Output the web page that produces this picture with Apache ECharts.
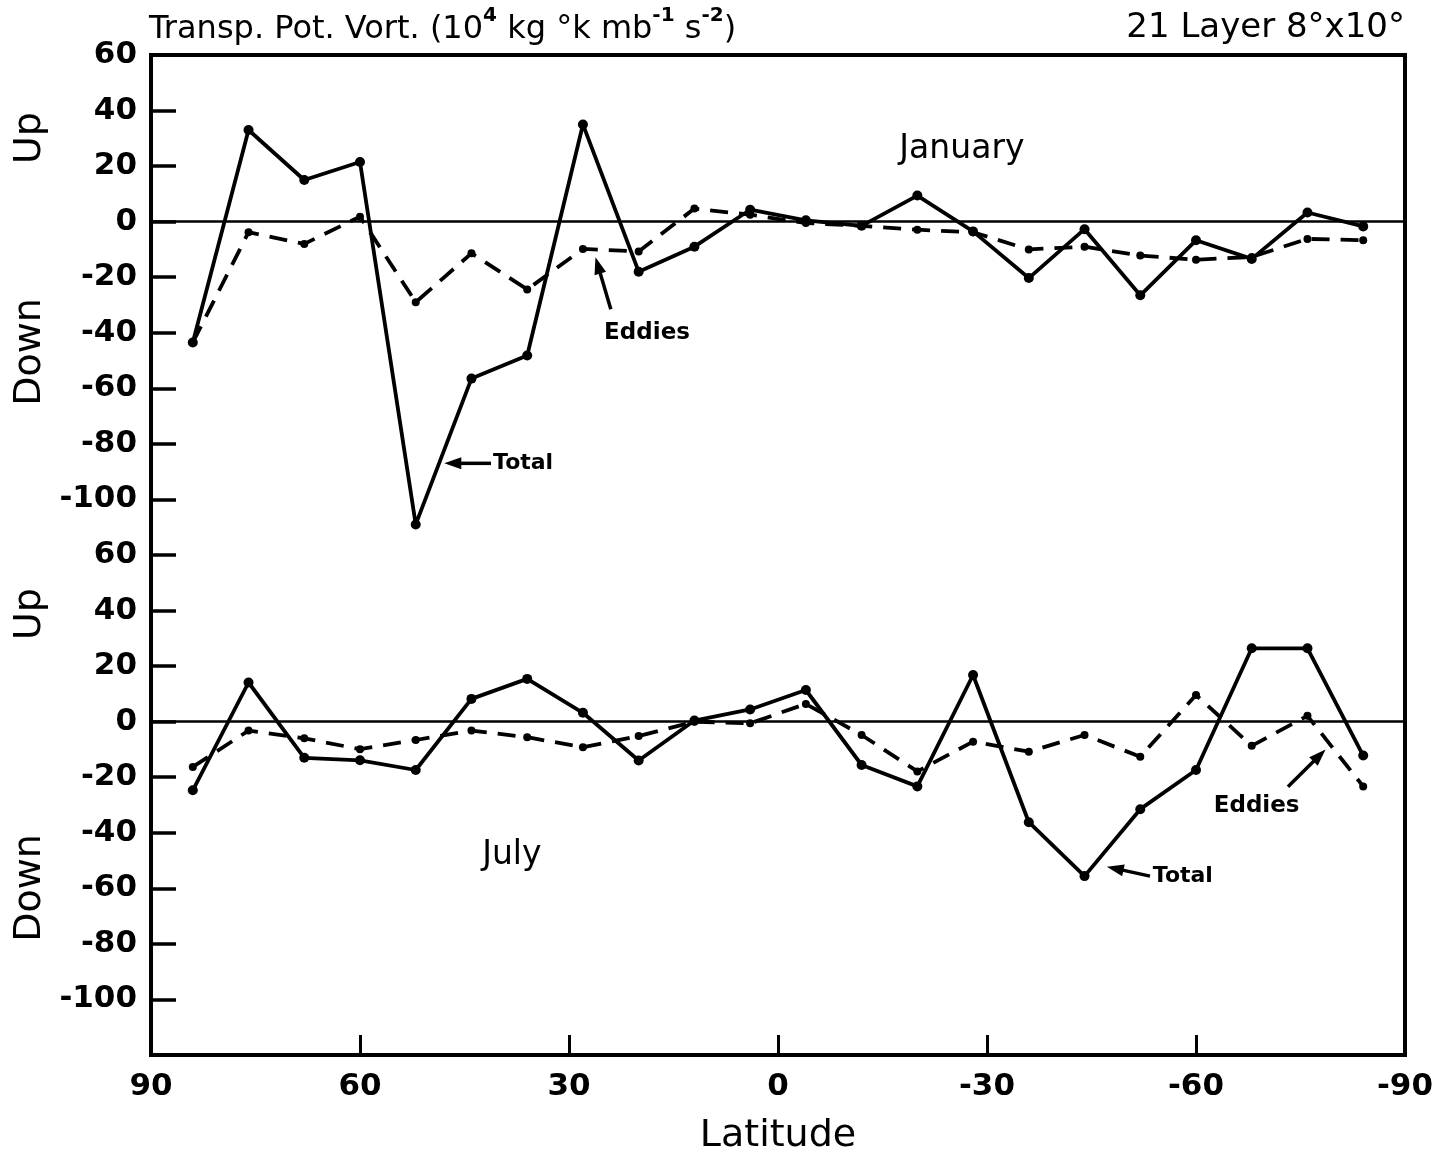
<!DOCTYPE html>
<html>
<head>
<meta charset="utf-8">
<script src="https://cdn.jsdelivr.net/npm/echarts@6/dist/echarts.min.js"></script>
<style>
  html, body { margin: 0; padding: 0; background: #fff; }
  #chart { width: 1442px; height: 1160px; }
</style>
</head>
<body>
<div id="chart"></div>
<script>
// Latitudes of the 8-degree analysis bands, north to south
const latitudes = [84, 76, 68, 60, 52, 44, 36, 28, 20, 12, 4, -4, -12, -20, -28, -36, -44, -52, -60, -68, -76, -84];

// January transport of potential vorticity (10^4 kg °K mb^-1 s^-2)
const januaryTotal  = [-43.5, 33, 15, 21.5, -109, -56.5, -48.2, 35, -18, -9, 4.3, 0.5, -1.5, 9.4, -3.5, -20.3, -2.7, -26.5, -6.7, -13.4, 3.3, -1.7];
const januaryEddies = [-43.5, -3.8, -8, 1.8, -29, -11.4, -24.4, -9.8, -10.7, 4.7, 2.5, -0.5, -1.5, -2.9, -3.8, -10, -9, -12.2, -13.7, -12.7, -6.2, -6.7];

// July transport of potential vorticity
const julyTotal  = [-24.7, 14.1, -13, -13.9, -17.4, 8.2, 15.4, 3.2, -14, 0.4, 4.4, 11.4, -15.6, -23.3, 16.8, -36.2, -55.6, -31.5, -17.4, 26.4, 26.4, -12.2];
const julyEddies = [-16.3, -3.2, -6, -9.9, -6.6, -3.2, -5.6, -9.2, -5.2, 0, -0.6, 6.4, -4.8, -17.9, -7.2, -10.8, -4.8, -12.6, 9.6, -8.7, 2.1, -23.3];

// Axis ranges and tick steps
const latitudeRange = [-90, 90];
const latitudeStep = 30;
const valueRange = [-120, 60];
const valueStep = 20;

// Panel annotations, placed in data coordinates of their panel
const panelTitles = [
  { panel: 0, text: 'January', at: [-26.4, 26] },
  { panel: 1, text: 'July', at: [38.2, -48] }
];
const pointers = [
  { panel: 0, text: 'Eddies', textAt: [18.8, -40], align: 'center', from: [24.0, -31.5], to: [26.2, -12.8] },
  { panel: 0, text: 'Total', textAt: [40.9, -87], align: 'left', from: [41.2, -87], to: [47.9, -87] },
  { panel: 1, text: 'Eddies', textAt: [-68.7, -30.2], align: 'center', from: [-73.2, -23.4], to: [-78.6, -10] },
  { panel: 1, text: 'Total', textAt: [-53.8, -55.8], align: 'left', from: [-53.4, -55.6], to: [-47.2, -52.2] }
];

const FONT = '"DejaVu Sans", "Liberation Sans", sans-serif';
const INK = '#000';
const GRID_LEFT = 151, GRID_RIGHT = 37, GRID_TOP = 55, PANEL_H = 500;

const chart = echarts.init(document.getElementById('chart'), null, { renderer: 'canvas' });

function xAxisFor(gridIndex, showLabels) {
  return {
    type: 'value', gridIndex, position: 'bottom',
    min: latitudeRange[0], max: latitudeRange[1], interval: latitudeStep,
    inverse: true,
    axisLine: { show: false, onZero: false },
    axisTick: { show: showLabels, inside: true, length: 20, lineStyle: { color: INK, width: 3 } },
    axisLabel: {
      show: showLabels, color: INK, fontFamily: FONT, fontSize: 31, fontWeight: 'bold', margin: 16,
      formatter: v => String(v)
    },
    splitLine: { show: false },
    name: showLabels ? 'Latitude' : '',
    nameLocation: 'middle', nameGap: 62,
    nameTextStyle: { color: INK, fontFamily: FONT, fontSize: 38 }
  };
}

function yAxisFor(gridIndex) {
  return {
    type: 'value', gridIndex, position: 'left',
    min: valueRange[0], max: valueRange[1], interval: valueStep,
    axisLine: { show: false, onZero: false },
    axisTick: { show: true, inside: true, length: 25, lineStyle: { color: INK, width: 3.5 } },
    axisLabel: {
      color: INK, fontFamily: FONT, fontSize: 31, fontWeight: 'bold', margin: 14,
      showMinLabel: false,
      formatter: v => (v === valueRange[0] ? '' : String(v))
    },
    splitLine: { show: false }
  };
}

function lineSeries(name, values, gridIndex, dashed) {
  const s = {
    type: 'line', name,
    xAxisIndex: gridIndex, yAxisIndex: gridIndex,
    data: latitudes.map((lat, i) => [lat, values[i]]),
    symbol: 'circle', symbolSize: dashed ? 8 : 10,
    itemStyle: { color: INK },
    lineStyle: { color: INK, width: 3.8, type: dashed ? [18, 11] : 'solid' },
    z: dashed ? 3 : 4,
    animation: false
  };
  if (!dashed) {
    s.markLine = {
      silent: true, symbol: 'none', animation: false,
      label: { show: false },
      lineStyle: { color: INK, width: 2.5, type: 'solid' },
      data: [{ yAxis: 0 }]
    };
  }
  return s;
}

const option = {
  backgroundColor: '#fff',
  animation: false,
  grid: [
    { left: GRID_LEFT, right: GRID_RIGHT, top: GRID_TOP, height: PANEL_H },
    { left: GRID_LEFT, right: GRID_RIGHT, top: GRID_TOP + PANEL_H, height: PANEL_H }
  ],
  xAxis: [xAxisFor(0, false), xAxisFor(1, true)],
  yAxis: [yAxisFor(0), yAxisFor(1)],
  series: [
    lineSeries('January Total', januaryTotal, 0, false),
    lineSeries('January Eddies', januaryEddies, 0, true),
    lineSeries('July Total', julyTotal, 1, false),
    lineSeries('July Eddies', julyEddies, 1, true)
  ]
};
chart.setOption(option);

// Frame, titles, side labels and annotations
const W = 1442;
const frameRight = W - GRID_RIGHT;
const graphics = [];

graphics.push({
  type: 'rect', z: 10, silent: true,
  shape: { x: GRID_LEFT, y: GRID_TOP, width: frameRight - GRID_LEFT, height: 2 * PANEL_H },
  style: { fill: 'none', stroke: INK, lineWidth: 4 }
});

graphics.push({
  type: 'text', z: 10, left: GRID_LEFT - 2, top: 6,
  style: {
    text: '{m|Transp. Pot. Vort. (10}{s|4}{m| kg °k mb}{s|-1}{m| s}{s|-2}{m|)}',
    fill: INK,
    rich: {
      m: { fontFamily: FONT, fontSize: 32, fill: INK, lineHeight: 40, verticalAlign: 'bottom' },
      s: { fontFamily: FONT, fontSize: 20, fontWeight: 'bold', fill: INK, lineHeight: 40, verticalAlign: 'top' }
    }
  }
});
graphics.push({
  type: 'text', z: 10, right: GRID_RIGHT, top: 11,
  style: { text: '21 Layer 8°x10°', fill: INK, font: '34px ' + FONT }
});

// "Up" / "Down" side labels for each panel
[[138, 'Up'], [352, 'Down'], [614, 'Up'], [888, 'Down']].forEach(([cy, t]) => {
  graphics.push({
    type: 'text', z: 10, x: 30, y: cy, rotation: Math.PI / 2,
    style: { text: t, fill: INK, font: '38px ' + FONT, textAlign: 'center', textVerticalAlign: 'middle' }
  });
});

panelTitles.forEach(a => {
  const p = chart.convertToPixel({ gridIndex: a.panel }, a.at);
  graphics.push({
    type: 'text', z: 10, x: p[0], y: p[1],
    style: { text: a.text, fill: INK, font: '33px ' + FONT, textAlign: 'center', textVerticalAlign: 'middle' }
  });
});

pointers.forEach(a => {
  const t = chart.convertToPixel({ gridIndex: a.panel }, a.textAt);
  const p1 = chart.convertToPixel({ gridIndex: a.panel }, a.from);
  const p2 = chart.convertToPixel({ gridIndex: a.panel }, a.to);
  graphics.push({
    type: 'text', z: 10, x: t[0], y: t[1],
    style: {
      text: a.text, fill: INK, font: 'bold ' + (a.text === 'Total' ? 22 : 23) + 'px ' + FONT,
      textAlign: a.align, textVerticalAlign: 'middle'
    }
  });
  const dx = p2[0] - p1[0], dy = p2[1] - p1[1];
  const len = Math.hypot(dx, dy);
  const ux = dx / len, uy = dy / len;
  const headL = 17, headW = 6;
  const bx = p2[0] - ux * headL, by = p2[1] - uy * headL;
  graphics.push({
    type: 'line', z: 10,
    shape: { x1: p1[0], y1: p1[1], x2: bx + ux * 2, y2: by + uy * 2 },
    style: { stroke: INK, lineWidth: 3.5 }
  });
  graphics.push({
    type: 'polygon', z: 10,
    shape: { points: [[p2[0], p2[1]], [bx - uy * headW, by + ux * headW], [bx + uy * headW, by - ux * headW]] },
    style: { fill: INK }
  });
});

chart.setOption({ graphic: graphics });
</script>
</body>
</html>
